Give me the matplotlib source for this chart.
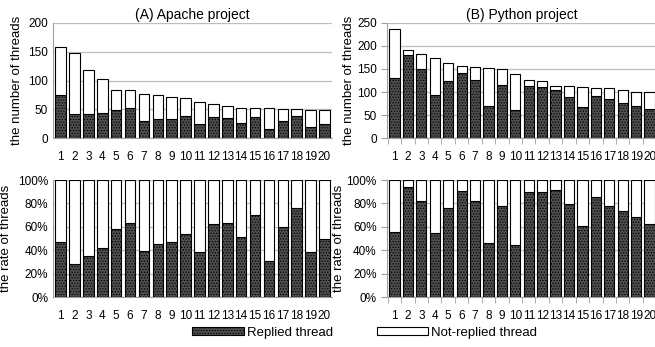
import matplotlib.pyplot as plt
from matplotlib.patches import Patch
import numpy as np

plt.rcParams['font.family'] = ['Liberation Sans', 'DejaVu Sans']
plt.rcParams['hatch.color'] = '#808080'
plt.rcParams['hatch.linewidth'] = 0.6

cats = [str(i) for i in range(1, 21)]

# Apache project: total threads and replied threads
apache_total = [158, 147, 119, 103, 84, 84, 77, 75, 72, 70, 63, 59, 55, 53, 53, 52, 50, 50, 49, 48]
apache_replied = [74, 42, 42, 43, 49, 53, 30, 34, 34, 38, 24, 37, 35, 27, 37, 16, 30, 38, 19, 24]

# Python project
python_total = [237, 192, 182, 173, 162, 156, 155, 152, 149, 139, 127, 123, 114, 113, 111, 108, 109, 105, 101, 101]
python_replied = [131, 181, 150, 94, 124, 142, 127, 70, 116, 62, 114, 110, 104, 90, 67, 92, 85, 77, 69, 63]

dark = '#4f4f4f'


def draw(ax, replied, total, rate, ymax, step, ticks):
    x = np.arange(len(cats))
    replied = np.array(replied, dtype=float)
    total = np.array(total, dtype=float)
    notrep = total - replied
    if rate:
        replied = replied / total * 100
        notrep = 100 - replied
    ax.bar(x, replied, 0.76, color=dark, edgecolor='black', linewidth=0.8, hatch='......', zorder=3)
    ax.bar(x, notrep, 0.76, bottom=replied, color='white', edgecolor='black', linewidth=0.8, zorder=3)
    ax.set_xlim(-0.55, len(cats) - 0.45)
    ax.set_ylim(0, ymax)
    ax.set_yticks(np.arange(0, ymax + 1, step))
    if rate:
        ax.set_yticklabels(['%d%%' % v for v in np.arange(0, ymax + 1, step)])
    ax.yaxis.grid(True, color='#bdbdbd', linewidth=0.9, zorder=0)
    ax.set_xticks(x)
    ax.set_xticklabels(cats)
    for s in ['top', 'right']:
        ax.spines[s].set_visible(False)
    for s in ['left', 'bottom']:
        ax.spines[s].set_color('#a0a0a0')
    ax.tick_params(axis='both', labelsize=8.5, colors='#a0a0a0', labelcolor='black')
    ax.tick_params(axis='x', length=0, pad=9)
    if ticks:
        ax.tick_params(axis='y', length=4, direction='out')
        ax.set_xticks(np.arange(len(cats) + 1) - 0.5, minor=True)
        ax.tick_params(axis='x', which='minor', length=4, colors='#a0a0a0')
    else:
        ax.tick_params(axis='y', length=0)
    ax.set_axisbelow(True)


fig = plt.figure(figsize=(6.55, 3.47), dpi=100)

ax1 = fig.add_axes([0.081, 0.602, 0.426, 0.332])
draw(ax1, apache_replied, apache_total, False, 200, 50, False)
ax1.set_ylabel('the number of threads', fontsize=9.5)
ax1.set_title('(A) Apache project', fontsize=10, pad=3)

ax2 = fig.add_axes([0.591, 0.602, 0.412, 0.332])
draw(ax2, python_replied, python_total, False, 250, 50, True)
ax2.set_ylabel('the number of threads', fontsize=9.5, labelpad=1)
ax2.set_title('(B) Python project', fontsize=10, pad=3)

ax3 = fig.add_axes([0.081, 0.144, 0.426, 0.337])
draw(ax3, apache_replied, apache_total, True, 100, 20, False)
ax3.set_ylabel('the rate of threads', fontsize=9.5)

ax4 = fig.add_axes([0.591, 0.144, 0.412, 0.337])
draw(ax4, python_replied, python_total, True, 100, 20, True)
ax4.set_ylabel('the rate of threads', fontsize=9.5, labelpad=1)

handles = [Patch(facecolor=dark, edgecolor='black', hatch='......', linewidth=0.8, label='Replied thread'),
           Patch(facecolor='white', edgecolor='black', linewidth=0.8, label='Not-replied thread')]
fig.legend(handles=handles, loc='lower center', bbox_to_anchor=(0.557, -0.01), ncol=2, frameon=False,
           fontsize=9.5, handlelength=3.9, handleheight=0.65, handletextpad=0.25, columnspacing=3.3)

fig.savefig('out.png', dpi=100)
